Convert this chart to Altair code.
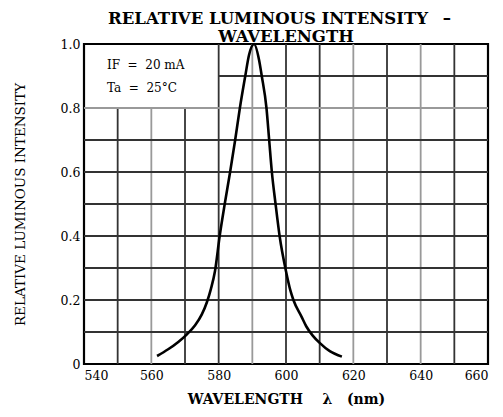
import altair as alt
import pandas as pd

# Curve
wavelength = [561.7, 565.0, 568.0, 570.5, 573.0, 575.0, 576.5, 577.7, 578.9, 580.3,
              581.8, 583.4, 584.9, 586.3, 587.9, 589.0, 590.5, 592.0, 592.8, 594.2,
              595.0, 595.8, 596.9, 598.1, 600.0, 601.3, 602.2, 604.6, 606.0, 608.0,
              610.0, 613.0, 616.6]
intensity = [0.025, 0.046, 0.069, 0.092, 0.121, 0.155, 0.193, 0.235, 0.29, 0.40,
             0.50, 0.60, 0.70, 0.80, 0.90, 0.965, 1.0, 0.95, 0.90, 0.80,
             0.70, 0.60, 0.50, 0.40, 0.29, 0.23, 0.20, 0.148, 0.118, 0.088,
             0.066, 0.040, 0.023]

x_ticks = [540, 560, 580, 600, 620, 640, 660]
y_ticks = [0, 0.2, 0.4, 0.6, 0.8, 1.0]
v_grid = [550, 560, 570, 580, 590, 600, 610, 620, 630, 640, 650]
v_light = [560, 590, 620, 640]
h_grid = [0.1, 0.2, 0.3, 0.4, 0.5, 0.6, 0.7, 0.8, 0.9]
h_light = [0.8]
box_x = [540, 580]
box_y = [0.8, 1.0]
notes = ["IF\u00a0 = \u00a020 mA", "Ta\u00a0 = \u00a025°C"]
notes_y = [0.934, 0.862]
notes_x = [546.8, 546.8]

FONT = "DejaVu Serif"
X_TITLE = "WAVELENGTH\u00a0\u00a0\u00a0\u00a0λ\u00a0\u00a0\u00a0(nm)"
Y_TITLE = "RELATIVE LUMINOUS INTENSITY"
TITLE = ["RELATIVE LUMINOUS INTENSITY\u00a0\u00a0\u2009–\u2800", "WAVELENGTH"]

xs = alt.Scale(domain=[540, 660], nice=False, zero=False)
ys = alt.Scale(domain=[0, 1], nice=False)
xax = alt.Axis(values=x_ticks, ticks=False, domain=False, grid=False,
               labelFont=FONT, labelFontSize=12.5, labelColor="black",
               labelPadding=5, titleFont=FONT, titleFontSize=14,
               titleFontWeight="bold", titleColor="black", titlePadding=11)
yax = alt.Axis(values=y_ticks, ticks=False, domain=False, grid=False,
               labelExpr="datum.value == 0 ? '0' : format(datum.value, '.1f')",
               labelFont=FONT, labelFontSize=12.5, labelColor="black",
               labelPadding=4, titleFont=FONT, titleFontSize=13.5,
               titleFontWeight="normal", titleColor="black", titlePadding=33)


def X(field, **kw):
    return alt.X(field, scale=xs, axis=xax, title=X_TITLE, **kw)


def Y(field, **kw):
    return alt.Y(field, scale=ys, axis=yax, title=Y_TITLE, **kw)


vdf = pd.DataFrame({
    "gx": v_grid,
    "y0": [0.0] * len(v_grid),
    "y1": [box_y[0] if box_x[0] < v < box_x[1] else 1.0 for v in v_grid],
    "shade": ["light" if v in v_light else "dark" for v in v_grid],
})
hdf = pd.DataFrame({
    "gy": h_grid,
    "x0": [box_x[1] if h > box_y[0] else 540 for h in h_grid],
    "x1": [660] * len(h_grid),
    "shade": ["light" if h in h_light else "dark" for h in h_grid],
})
cdf = pd.DataFrame({"wl": wavelength, "rel": intensity})
ndf = pd.DataFrame({"x": notes_x, "y": notes_y, "t": notes})

shade_color = alt.Color("shade:N", scale=alt.Scale(domain=["dark", "light"],
                                                   range=["#333333", "#999999"]),
                        legend=None)

vrules = alt.Chart(vdf).mark_rule(strokeWidth=1.8).encode(
    x=X("gx:Q"), y=Y("y0:Q"), y2="y1:Q", color=shade_color)
hrules = alt.Chart(hdf).mark_rule(strokeWidth=1.8).encode(
    y=Y("gy:Q"), x=X("x0:Q"), x2="x1:Q", color=shade_color)
curve = alt.Chart(cdf).mark_line(color="black", strokeWidth=2.6,
                                 interpolate="monotone").encode(
    x=X("wl:Q"), y=Y("rel:Q"))
text = alt.Chart(ndf).mark_text(align="left", baseline="middle", font=FONT,
                                fontSize=12, color="black").encode(
    x=X("x:Q"), y=Y("y:Q"), text="t:N")

chart = alt.layer(vrules, hrules, curve, text).properties(
    width=404, height=320,
    background="white",
    autosize=alt.AutoSizeParams(type="none"),
    padding={"left": 76, "top": 36, "right": 5, "bottom": 45},
    title=alt.Title(TITLE, font=FONT, fontSize=16.5, fontWeight="bold",
                    color="black", anchor="middle", offset=-7, lineHeight=18),
).configure_view(stroke="black", strokeWidth=2.2)

chart.save("out.html", embed_options={"renderer": "svg", "actions": False})
